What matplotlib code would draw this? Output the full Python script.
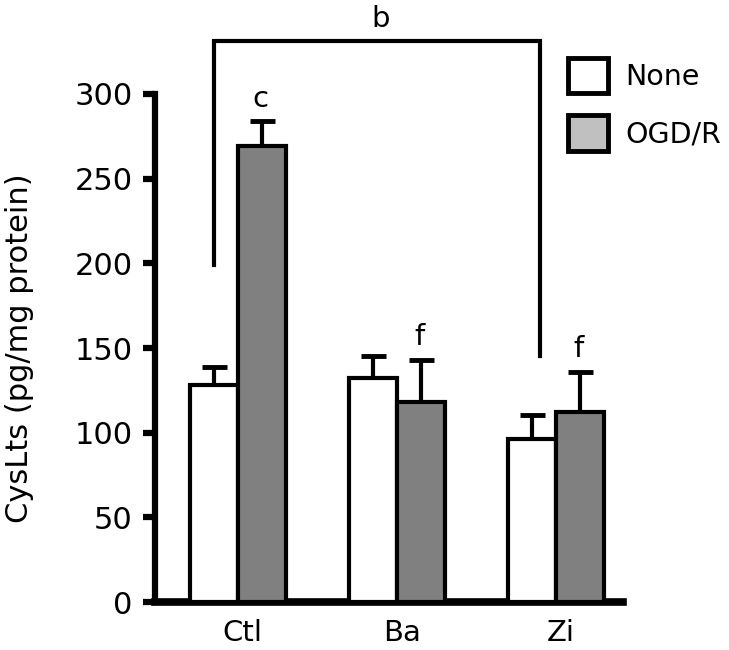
import matplotlib

matplotlib.use("Agg")
import matplotlib.pyplot as plt
import numpy as np
from matplotlib.patches import Patch

groups = ["Ctl", "Ba", "Zi"]
none_vals = [128, 132.5, 96]
none_err = [10.5, 12.5, 14.5]
ogd_vals = [269, 118, 112]
ogd_err = [15, 25, 24]
series_labels = ["None", "OGD/R"]
sig_ogd = ["c", "f", "f"]

plt.rcParams["font.family"] = "DejaVu Sans"

fig = plt.figure(figsize=(7.29, 6.5), dpi=100)
ax = fig.add_axes([0.2126, 0.0738, 0.642, 0.7816])

x = np.arange(len(groups))
w = 0.3
bar_kw = dict(edgecolor="black", linewidth=3, zorder=3)
err_kw = dict(ecolor="black", elinewidth=3, capsize=9, capthick=3.5, zorder=2)

ax.bar(x - w / 2, none_vals, w, color="white", yerr=[np.zeros(3), none_err],
       error_kw=err_kw, **bar_kw)
ax.bar(x + w / 2, ogd_vals, w, color="#808080", yerr=[np.zeros(3), ogd_err],
       error_kw=err_kw, **bar_kw)

# significance letters over OGD/R bars
for xi, v, e, s in zip(x, ogd_vals, ogd_err, sig_ogd):
    ax.text(xi + w / 2 - 0.01, v + e + 5, s, ha="center", va="bottom", fontsize=21)

# bracket Ctl vs Zi
ax.plot([-w / 2, -w / 2, 1.9, 1.9], [199, 331, 331, 145], color="black",
        linewidth=3, clip_on=False, solid_joinstyle="miter")
ax.text(0.9, 336, "b", ha="center", va="bottom", fontsize=21)

ax.set_xlim(-0.52, 2.42)
ax.set_ylim(0, 300)
ax.set_yticks(range(0, 301, 50))
ax.set_xticks(x + 0.03)
ax.set_xticklabels(groups, fontsize=21)
ax.tick_params(axis="y", labelsize=22, width=4.5, length=9, pad=7)
ax.tick_params(axis="x", length=0, pad=12)
for side in ("top", "right"):
    ax.spines[side].set_visible(False)
ax.spines["left"].set_linewidth(4.5)
ax.spines["bottom"].set_linewidth(5.5)
ax.set_ylabel("CysLts (pg/mg protein)", fontsize=22, labelpad=29)

handles = [Patch(facecolor="white", edgecolor="black", linewidth=3.5),
           Patch(facecolor="#c0c0c0", edgecolor="black", linewidth=3.5)]
fig.legend(handles, series_labels, loc="upper left", bbox_to_anchor=(0.764, 0.929),
           frameon=False, fontsize=20.5, handlelength=1.4, handleheight=1.55,
           handletextpad=0.6, labelspacing=0.78, borderaxespad=0)

fig.savefig("out.png", dpi=100)
